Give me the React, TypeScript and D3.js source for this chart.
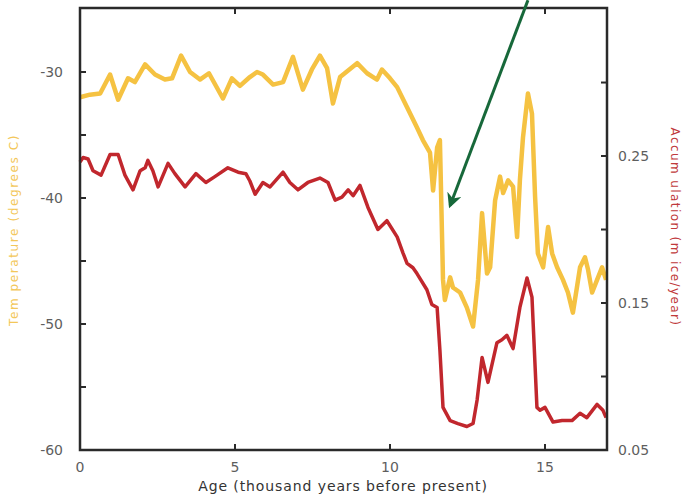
import React from "react";
import * as d3 from "d3";

const W = 683;
const H = 498;

// Temperature record (degrees C) vs age (thousand years BP)
const tempAge = [0, 0.32, 0.65, 0.97, 1.23, 1.55, 1.77, 2.1, 2.42, 2.74, 2.97, 3.26, 3.55, 3.87, 4.16, 4.61, 4.9, 5.16, 5.48, 5.71, 5.9, 6.23, 6.55, 6.87, 7.19, 7.48, 7.74, 7.97, 8.16, 8.39, 8.94, 9.26, 9.58, 9.74, 10.0, 10.23, 10.55, 10.87, 11.06, 11.29, 11.39, 11.52, 11.61, 11.71, 11.77, 11.94, 12.03, 12.26, 12.48, 12.68, 12.84, 12.97, 13.13, 13.23, 13.39, 13.55, 13.65, 13.81, 13.97, 14.1, 14.19, 14.29, 14.45, 14.58, 14.68, 14.77, 14.94, 15.1, 15.23, 15.39, 15.58, 15.74, 15.9, 16.03, 16.13, 16.29, 16.39, 16.52, 16.68, 16.84, 16.97];
const tempValues = [-32.0, -31.8, -31.7, -30.2, -32.2, -30.5, -30.8, -29.4, -30.2, -30.6, -30.5, -28.7, -30.0, -30.6, -30.1, -32.1, -30.5, -31.1, -30.4, -30.0, -30.2, -31.0, -30.8, -28.8, -31.4, -29.8, -28.7, -29.7, -32.5, -30.4, -29.3, -30.1, -30.6, -29.8, -30.5, -31.2, -32.8, -34.4, -35.4, -36.4, -39.4, -36.0, -35.4, -46.5, -48.1, -46.3, -47.1, -47.5, -48.7, -50.2, -46.5, -41.2, -46.0, -45.5, -40.2, -38.3, -39.6, -38.6, -39.1, -43.1, -38.6, -35.2, -31.7, -33.3, -39.9, -44.4, -45.5, -42.3, -44.4, -45.5, -46.5, -47.5, -49.1, -47.1, -45.5, -44.7, -45.7, -47.5, -46.5, -45.5, -46.5];

// Accumulation record (m ice/year) vs age
const accAge = [0, 0.1, 0.26, 0.42, 0.68, 0.97, 1.23, 1.45, 1.71, 1.94, 2.1, 2.19, 2.35, 2.52, 2.84, 3.06, 3.39, 3.74, 4.06, 4.35, 4.77, 5.1, 5.35, 5.48, 5.65, 5.9, 6.13, 6.55, 6.77, 7.03, 7.35, 7.74, 8.0, 8.23, 8.45, 8.65, 8.81, 9.03, 9.29, 9.61, 9.9, 10.23, 10.42, 10.55, 10.74, 10.87, 11.19, 11.35, 11.52, 11.61, 11.71, 11.94, 12.19, 12.48, 12.68, 12.81, 12.97, 13.16, 13.45, 13.61, 13.77, 13.97, 14.19, 14.42, 14.58, 14.74, 14.84, 15.0, 15.26, 15.55, 15.87, 16.13, 16.35, 16.68, 16.87, 16.97];
const accValues = [0.246, 0.249, 0.248, 0.240, 0.237, 0.251, 0.251, 0.237, 0.227, 0.240, 0.242, 0.247, 0.240, 0.229, 0.245, 0.238, 0.229, 0.238, 0.232, 0.236, 0.242, 0.239, 0.238, 0.233, 0.224, 0.232, 0.229, 0.239, 0.232, 0.227, 0.232, 0.235, 0.232, 0.220, 0.222, 0.227, 0.223, 0.230, 0.215, 0.200, 0.206, 0.195, 0.184, 0.177, 0.174, 0.170, 0.159, 0.149, 0.147, 0.118, 0.079, 0.070, 0.068, 0.066, 0.068, 0.084, 0.113, 0.096, 0.123, 0.125, 0.128, 0.119, 0.147, 0.167, 0.154, 0.079, 0.077, 0.079, 0.069, 0.070, 0.070, 0.075, 0.072, 0.081, 0.077, 0.072];

const xTicks = [0, 5, 10, 15];
const tempTicks = [-60, -50, -40, -30];
const tempMinor = [-55, -45, -35];
const accTicks = [0.05, 0.15, 0.25];
const accMinor = [0.1, 0.2, 0.3];

// Arrow annotation (age, temperature)
const arrowFrom = [14.45, -24.3];
const arrowTo = [11.94, -40.6];

export default function App() {
  const left = 80, right = 607, top = 8, bottom = 450;
  const x = d3.scaleLinear().domain([0, 17]).range([left, right]);
  const yT = d3.scaleLinear().domain([-60, -24.92]).range([bottom, top]);
  const yA = d3.scaleLinear().domain([0.05, 0.3507]).range([bottom, top]);

  const tempLine = d3.line<number>().x((_, i) => x(tempAge[i])).y((d) => yT(d));
  const accLine = d3.line<number>().x((_, i) => x(accAge[i])).y((d) => yA(d));

  const tickLen = 6;
  const axisColor = "#2a2a2a";
  const labelColor = "#5e5e5e";
  const font = "'DejaVu Sans', Verdana, sans-serif";

  return (
    <div style={{ position: "absolute", left: 0, top: 0 }}>
      <svg width={W} height={H} style={{ display: "block", background: "#fff" }}>
        <defs>
          <marker id="arrowhead" viewBox="0 0 10 10" refX="8" refY="5" markerWidth="5" markerHeight="5" orient="auto">
            <path d="M0,0 L10,5 L0,10 L3,5 Z" fill="#17683a" />
          </marker>
        </defs>
        <path d={tempLine(tempValues) || ""} fill="none" stroke="#f5c242" strokeWidth={4.5} strokeLinejoin="round" />
        <path d={accLine(accValues) || ""} fill="none" stroke="#c1272d" strokeWidth={3.5} strokeLinejoin="round" />

        {/* frame */}
        <rect x={left} y={top} width={right - left} height={bottom - top} fill="none" stroke={axisColor} strokeWidth={2.5} />

        {/* x ticks */}
        {xTicks.map((t) => (
          <g key={"x" + t}>
            {t > 0 && <line x1={x(t)} x2={x(t)} y1={bottom} y2={bottom - tickLen} stroke={axisColor} strokeWidth={2} />}
            {t > 0 && <line x1={x(t)} x2={x(t)} y1={top} y2={top + tickLen} stroke={axisColor} strokeWidth={2} />}
            <text x={x(t)} y={bottom + 22} textAnchor="middle" fontFamily={font} fontSize={14} fill={labelColor}>{t}</text>
          </g>
        ))}

        {/* left temperature ticks */}
        {tempTicks.map((t) => (
          <g key={"t" + t}>
            <line x1={left} x2={left + tickLen} y1={yT(t)} y2={yT(t)} stroke={axisColor} strokeWidth={2} />
            <text x={left - 17} y={yT(t) + 5} textAnchor="end" fontFamily={font} fontSize={14} fill={labelColor}>{t}</text>
          </g>
        ))}
        {tempMinor.map((t) => (
          <line key={"tm" + t} x1={left} x2={left + tickLen} y1={yT(t)} y2={yT(t)} stroke={axisColor} strokeWidth={2} />
        ))}

        {/* right accumulation ticks */}
        {accTicks.map((t) => (
          <g key={"a" + t}>
            <line x1={right} x2={right - tickLen} y1={yA(t)} y2={yA(t)} stroke={axisColor} strokeWidth={2} />
            <text x={right + 11} y={yA(t) + 5} textAnchor="start" fontFamily={font} fontSize={14} fill={labelColor}>{t.toFixed(2)}</text>
          </g>
        ))}
        {accMinor.map((t) => (
          <line key={"am" + t} x1={right} x2={right - tickLen} y1={yA(t)} y2={yA(t)} stroke={axisColor} strokeWidth={2} />
        ))}

        {/* axis titles */}
        <text x={343} y={491} textAnchor="middle" fontFamily={font} fontSize={14} letterSpacing={0.9} fill="#333">
          Age (thousand years before present)
        </text>
        <text transform={`translate(18, 230) rotate(-90)`} textAnchor="middle" fontFamily={font} fontSize={12} letterSpacing={1.6} fill="#f3c75a">
          Tem perature (degrees C)
        </text>
        <text transform={`translate(671, 227) rotate(90)`} textAnchor="middle" fontFamily={font} fontSize={12} letterSpacing={1.4} fill="#c0393b">
          Accum ulation (m ice/year)
        </text>

        {/* arrow annotation */}
        <line
          x1={x(arrowFrom[0])}
          y1={yT(arrowFrom[1])}
          x2={x(arrowTo[0])}
          y2={yT(arrowTo[1])}
          stroke="#17683a"
          strokeWidth={3}
          markerEnd="url(#arrowhead)"
        />
      </svg>
    </div>
  );
}
